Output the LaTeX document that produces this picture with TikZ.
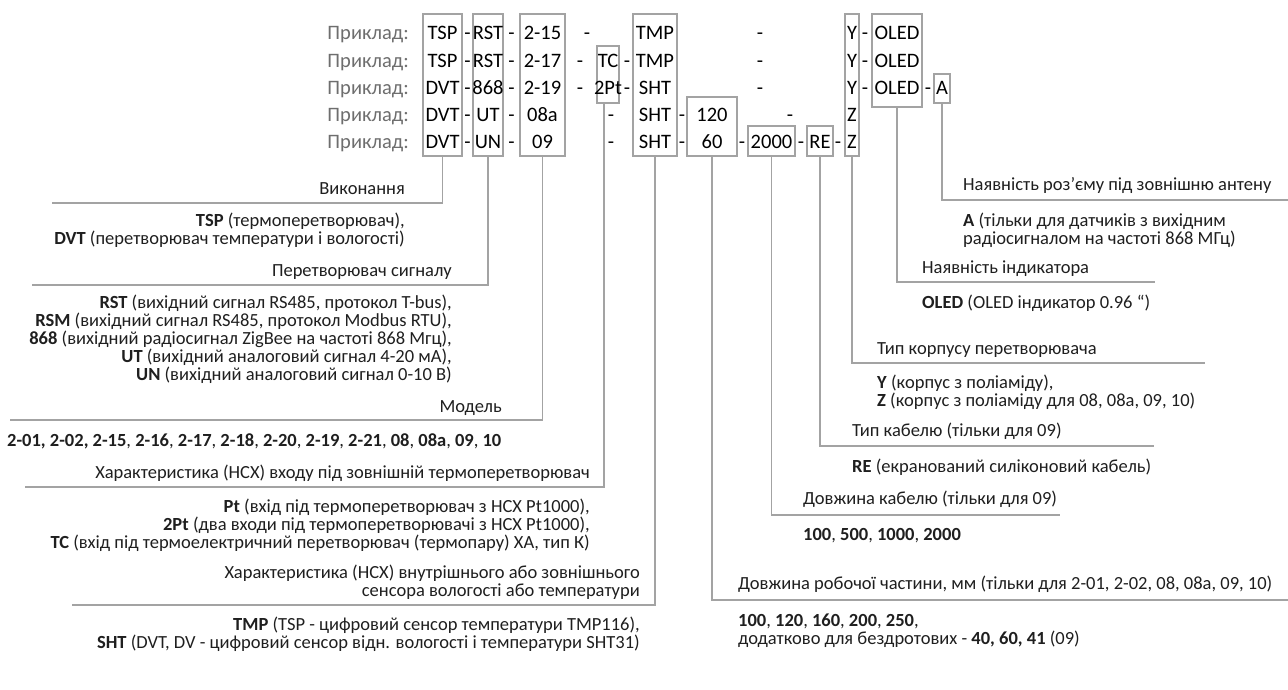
\documentclass[tikz,border=0pt]{standalone}
\usepackage{fontspec}
\setmainfont{Carlito}
\definecolor{lineg}{HTML}{A3A3A3}
\definecolor{txtg}{HTML}{6E6E6E}
\definecolor{txtd}{HTML}{1F1F1F}
\begin{document}
\begin{tikzpicture}[x=1pt,y=-1pt,
  cbox/.style={draw=lineg, line width=1.2pt, inner sep=0pt},
  conn/.style={draw=lineg, line width=1.2pt},
  code/.style={font=\fontsize{20.5}{24}\selectfont, text=black, anchor=base, inner sep=0pt},
  lab/.style={font=\fontsize{20.5}{24}\selectfont, text=txtg, anchor=base east, inner sep=0pt},
  dl/.style={font=\fontsize{18.5}{18}\selectfont, text=txtd, anchor=base east, inner sep=0pt},
  dr/.style={font=\fontsize{18.5}{18}\selectfont, text=txtd, anchor=base west, inner sep=0pt}]
\useasboundingbox (0,0) rectangle (1288,690);
\fill[white] (0,0) rectangle (1288,690);

% boxes
\node[cbox, minimum width=39pt, minimum height=142pt] (b1) at (442.5,85) {};
\node[cbox, minimum width=30pt, minimum height=142pt] (b2) at (488,85) {};
\node[cbox, minimum width=45pt, minimum height=142pt] (b3) at (542.5,85) {};
\node[cbox, minimum width=22pt, minimum height=57pt] (b4) at (608,74.5) {};
\node[cbox, minimum width=44pt, minimum height=142pt] (b5) at (655,85) {};
\node[cbox, minimum width=50pt, minimum height=59pt] (b6) at (712,126.5) {};
\node[cbox, minimum width=47pt, minimum height=30pt] (b7) at (771.5,141) {};
\node[cbox, minimum width=26pt, minimum height=30pt] (b8) at (820,141) {};
\node[cbox, minimum width=14pt, minimum height=142pt] (b9) at (852,85) {};
\node[cbox, minimum width=50pt, minimum height=93pt] (b10) at (897,60.5) {};
\node[cbox, minimum width=16pt, minimum height=29pt] (b11) at (942,88.5) {};

% rows
\foreach \y/\a/\b/\c [count=\i] in {40/TSP/RST/2-15, 68/TSP/RST/2-17, 95/DVT/868/2-19, 122/DVT/UT/08a, 149/DVT/UN/09} {
  \node[lab] (lab\i) at (409,\y) {Приклад:};
  \node[code] (ca\i) at (442.5,\y) {\a};
  \node[code] (cb\i) at (488,\y) {\b};
  \node[code] (cc\i) at (542.5,\y) {\c};
  \node[code] (da\i) at (467.5,\y) {-};
  \node[code] (db\i) at (511.5,\y) {-};
}
% row 1
\node[code] (r1d3) at (587,40) {-};
\node[code] (r1t) at (655,40) {TMP};
\node[code] (r1d4) at (760,40) {-};
\node[code] (r1y) at (852,40) {Y};
\node[code] (r1d5) at (865,40) {-};
\node[code] (r1o) at (897,40) {OLED};
% row 2
\node[code] (r2d3) at (580,68) {-};
\node[code] (r2tc) at (608,68) {TC};
\node[code] (r2d4) at (627,68) {-};
\node[code] (r2t) at (655,68) {TMP};
\node[code] (r2d5) at (760,68) {-};
\node[code] (r2y) at (852,68) {Y};
\node[code] (r2d6) at (865,68) {-};
\node[code] (r2o) at (897,68) {OLED};
% row 3
\node[code] (r3d3) at (580,95) {-};
\node[code] (r3tc) at (608,95) {2Pt};
\node[code] (r3d4) at (627,95) {-};
\node[code] (r3t) at (655,95) {SHT};
\node[code] (r3d5) at (760,95) {-};
\node[code] (r3y) at (852,95) {Y};
\node[code] (r3d6) at (865,95) {-};
\node[code] (r3o) at (897,95) {OLED};
\node[code] (r3d7) at (928,95) {-};
\node[code] (r3a) at (942,95) {A};
% row 4
\node[code] (r4d3) at (611,122) {-};
\node[code] (r4t) at (655,122) {SHT};
\node[code] (r4d4) at (682,122) {-};
\node[code] (r4l) at (712,122) {120};
\node[code] (r4d5) at (790,122) {-};
\node[code] (r4z) at (852,122) {Z};
% row 5
\node[code] (r5d3) at (611,149) {-};
\node[code] (r5t) at (655,149) {SHT};
\node[code] (r5d4) at (682,149) {-};
\node[code] (r5l) at (712,149) {60};
\node[code] (r5d5) at (742,149) {-};
\node[code] (r5c) at (771.5,149) {2000};
\node[code] (r5d6) at (801,149) {-};
\node[code] (r5re) at (820,149) {RE};
\node[code] (r5d7) at (838,149) {-};
\node[code] (r5z) at (852,149) {Z};

% connector end points
\coordinate (e1) at (52,203);
\coordinate (e2) at (32,285);
\coordinate (e3) at (10,420);
\coordinate (e4) at (25,487);
\coordinate (e5) at (72,605);
\coordinate (f6) at (1288,600);
\coordinate (f7) at (1060,515);
\coordinate (f8) at (1154,446);
\coordinate (f9) at (1205,363);
\coordinate (f10) at (1155,282);
\coordinate (f11) at (1288,200);

\draw[conn] (b1.south) |- (e1);
\draw[conn] (b2.south) |- (e2);
\draw[conn] (b3.south) |- (e3);
\draw[conn] ([xshift=-4pt]b4.south) |- (e4);
\draw[conn] (b5.south) |- (e5);
\draw[conn] (b6.south) |- (f6);
\draw[conn] (b7.south) |- (f7);
\draw[conn] (b8.south) |- (f8);
\draw[conn] (b9.south) |- (f9);
\draw[conn] (b10.south) |- (f10);
\draw[conn] (b11.south) |- (f11);

% left descriptions
\node[dl] (t1) at (405,194) {Виконання};
\node[dl] (t1a) at (405,226) {\textbf{TSP} (термоперетворювач),};
\node[dl] (t1b) at (405,244) {\textbf{DVT} (перетворювач температури і вологості)};
\node[dl] (t2) at (452,276) {Перетворювач сигналу};
\node[dl] (t2a) at (452,308) {\textbf{RST} (вихідний сигнал RS485, протокол T-bus),};
\node[dl] (t2b) at (452,326) {\textbf{RSM} (вихідний сигнал RS485, протокол Modbus RTU),};
\node[dl] (t2c) at (452,344) {\textbf{868} (вихідний радіосигнал ZigBee на частоті 868 Мгц),};
\node[dl] (t2d) at (452,362) {\textbf{UT} (вихідний аналоговий сигнал 4-20 мА),};
\node[dl] (t2e) at (452,380) {\textbf{UN} (вихідний аналоговий сигнал 0-10 В)};
\node[dl] (t3) at (502,412) {Модель};
\node[dr] (t3a) at (7,446) {\textbf{2-01, 2-02, 2-15}, \textbf{2-16}, \textbf{2-17}, \textbf{2-18}, \textbf{2-20}, \textbf{2-19}, \textbf{2-21}, \textbf{08}, \textbf{08a}, \textbf{09}, \textbf{10}};
\node[dl] (t4) at (590,478) {Характеристика (НСХ) входу під зовнішній термоперетворювач};
\node[dl] (t4a) at (590,512) {\textbf{Pt} (вхід під термоперетворювач з НСХ Pt1000),};
\node[dl] (t4b) at (590,530) {\textbf{2Pt} (два входи під термоперетворювачі з НСХ Pt1000),};
\node[dl] (t4c) at (590,548) {\textbf{TC} (вхід під термоелектричний перетворювач (термопару) ХА, тип К)};
\node[dl] (t5) at (640,578) {Характеристика (НСХ) внутрішнього або зовнішнього};
\node[dl] (t5b) at (640,596) {сенсора вологості або температури};
\node[dl] (t5c) at (640,630) {\textbf{TMP} (TSP - цифровий сенсор температури TMP116),};
\node[dl] (t5d) at (640,648) {\textbf{SHT} (DVT, DV - цифровий сенсор відн. вологості і температури SHT31)};

% right descriptions
\node[dr] (s1) at (963,190) {Наявність роз’єму під зовнішню антену};
\node[dr] (s1a) at (963,226) {\textbf{A} (тільки для датчиків з вихідним};
\node[dr] (s1b) at (963,244) {радіосигналом на частоті 868 МГц)};
\node[dr] (s2) at (922,273) {Наявність індикатора};
\node[dr] (s2a) at (922,308) {\textbf{OLED} (OLED індикатор 0.96 “)};
\node[dr] (s3) at (877,354) {Тип корпусу перетворювача};
\node[dr] (s3a) at (877,388) {\textbf{Y} (корпус з поліаміду),};
\node[dr] (s3b) at (877,406) {\textbf{Z} (корпус з поліаміду для 08, 08a, 09, 10)};
\node[dr] (s4) at (852,436) {Тип кабелю (тільки для 09)};
\node[dr] (s4a) at (852,472) {\textbf{RE} (екранований силіконовий кабель)};
\node[dr] (s5) at (803,504) {Довжина кабелю (тільки для 09)};
\node[dr] (s5a) at (803,540) {\textbf{100}, \textbf{500}, \textbf{1000}, \textbf{2000}};
\node[dr] (s6) at (738,589) {Довжина робочої частини, мм (тільки для 2-01, 2-02, 08, 08a, 09, 10)};
\node[dr] (s6a) at (738,626) {\textbf{100}, \textbf{120}, \textbf{160}, \textbf{200}, \textbf{250},};
\node[dr] (s6b) at (738,644) {додатково для бездротових - \textbf{40, 60, 41} (09)};
\end{tikzpicture}
\end{document}
